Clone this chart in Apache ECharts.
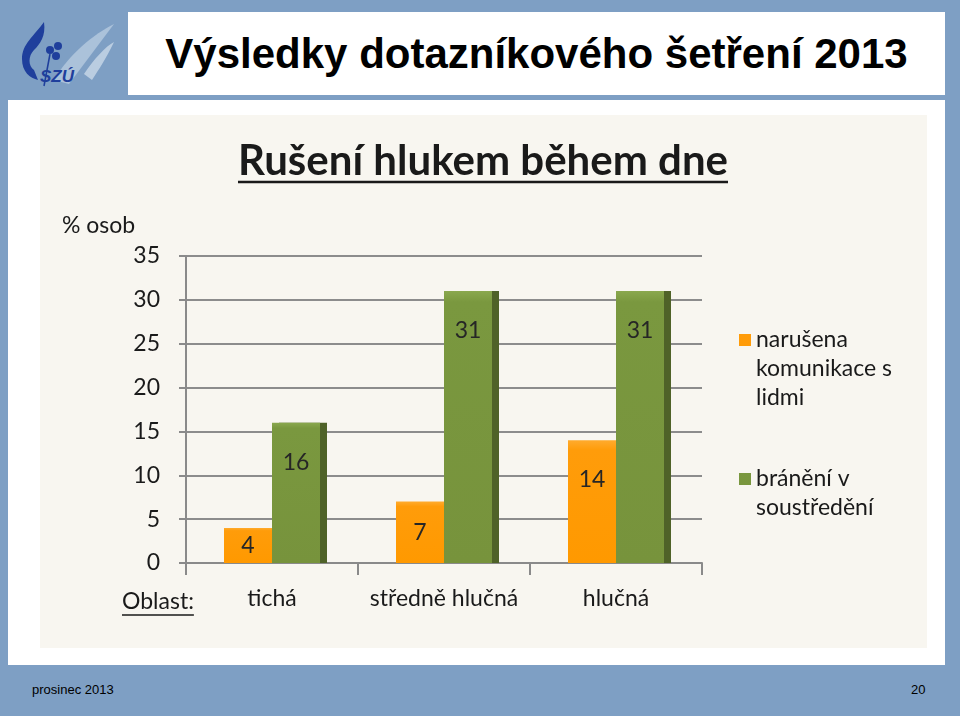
<!DOCTYPE html>
<html>
<head>
<meta charset="utf-8">
<script src="https://cdn.jsdelivr.net/npm/echarts@6/dist/echarts.min.js"></script>
<style>
  html, body { margin: 0; padding: 0; }
  body { width: 960px; height: 716px; background: #7e9fc4; position: relative; overflow: hidden; font-family: "Liberation Sans", Arial, sans-serif; }
  .box { position: absolute; background: #ffffff; }
  #header { left: 128px; top: 12px; width: 817px; height: 83px; display: flex; align-items: center; justify-content: center; }
  #header span { font: bold 42px "Liberation Sans", Arial, sans-serif; color: #000; }
  #content { left: 8px; top: 100px; width: 937px; height: 565px; }
  #beige { position: absolute; left: 40px; top: 115px; width: 887px; height: 533px; background: #f8f6f0; }
  #logo { position: absolute; left: 14px; top: 14px; width: 104px; height: 80px; }
  .foot { position: absolute; top: 682px; font: 13px "Liberation Sans", Arial, sans-serif; color: #000; }
  #chart { position: absolute; left: 0; top: 0; width: 960px; height: 716px; }
</style>
</head>
<body>
<div id="header" class="box"><span>Výsledky dotazníkového šetření 2013</span></div>
<div id="content" class="box"></div>
<div id="beige"></div>
<svg id="logo" viewBox="0 0 104 80">
  <path d="M40 66 C55 40 80 20 100 10 C85 30 70 50 55 70 Z" fill="#b7cbe0" opacity="0.8"/>
  <path d="M70 60 C80 45 92 32 100 28 C92 45 85 55 78 66 Z" fill="#c9d8e8" opacity="0.8"/>
  <path d="M30 8 C20 22 8 30 8 45 C8 58 16 64 24 66 L20 56 C14 52 14 42 20 36 C26 30 32 22 30 8 Z" fill="#1f3f9c"/>
  <circle cx="36" cy="36" r="4" fill="#1f3f9c"/>
  <circle cx="44" cy="32" r="4" fill="#1f3f9c"/>
  <circle cx="42" cy="42" r="4" fill="#1f3f9c"/>
  <line x1="36" y1="40" x2="30" y2="72" stroke="#1f3f9c" stroke-width="1.5"/>
  <text x="26" y="68" font-family="Liberation Sans, Arial" font-weight="bold" font-style="italic" font-size="17" fill="#1f3f9c">SZÚ</text>
</svg>
<div class="foot" style="left:32px;">prosinec 2013</div>
<div class="foot" style="left:911px;">20</div>
<div id="chart"></div>
<script>
// ---- data ----
const categories = ['tichá', 'středně hlučná', 'hlučná'];
const seriesNames = ['narušena\nkomunikace s\nlidmi', 'bránění v\nsoustředění'];
const communication = [4, 7, 14];
const concentration = [16, 31, 31];
const chartTitle = 'Rušení hlukem během dne';
const yAxisTitle = '% osob';
const xAxisTitle = 'Oblast:';
const yMin = 0, yMax = 35, yInterval = 5;

// ---- styling ----
const FONT = 'Lato, "Open Sans", sans-serif';
const TXT = '#1a1a1a';
const FS = 23;
const LINE_H = 29;

function measure(text, font) {
  const c = document.createElement('canvas').getContext('2d');
  c.font = font;
  return c.measureText(text).width;
}

const titleSize = 42;
const titleW = measure(chartTitle, 'bold ' + titleSize + 'px Lato');
const titleCx = 483;
const oblastSize = 23;
const oblastW = measure(xAxisTitle, oblastSize + 'px Lato');

function labelFor(v) {
  return v < 10
    ? { position: 'inside' }
    : { position: 'insideTop', distance: 28 };
}

// legend icon: square aligned with the first text line of a multi-line label
function legendFor(name, left, firstLineY) {
  const lines = name.split('\n').length;
  const h = lines * LINE_H;
  const sq = LINE_H / 2 - 6;
  const icon = 'path://M0,0h0.01v0.01h-0.01z' +
    'M0,' + sq + 'h12v12h-12z' +
    'M11.99,' + (h - 0.01) + 'h0.01v0.01h-0.01z';
  return {
    data: [name],
    left: left, top: firstLineY - LINE_H / 2 - 5,
    orient: 'vertical',
    itemWidth: 12, itemHeight: h, icon: icon,
    textStyle: { fontFamily: FONT, fontSize: FS, lineHeight: LINE_H, color: TXT }
  };
}

const chart = echarts.init(document.getElementById('chart'), null, { renderer: 'canvas' });

chart.setOption({
  backgroundColor: 'transparent',
  animation: false,
  title: {
    text: chartTitle,
    left: titleCx - titleW / 2,
    top: 140,
    padding: 0,
    textStyle: { fontFamily: FONT, fontSize: titleSize, fontWeight: 'bold', color: TXT }
  },
  legend: [
    legendFor(seriesNames[0], 734, 340),
    legendFor(seriesNames[1], 734, 479)
  ],
  grid: { left: 186, right: 258, top: 256, bottom: 153, containLabel: false },
  xAxis: {
    type: 'category',
    data: categories,
    axisLine: { lineStyle: { color: '#8a8a8a', width: 2 } },
    axisTick: { show: true, length: 12, lineStyle: { color: '#8a8a8a', width: 2 } },
    axisLabel: { interval: 0, margin: 24, fontFamily: FONT, fontSize: FS, color: TXT }
  },
  yAxis: {
    type: 'value',
    min: yMin, max: yMax, interval: yInterval,
    axisLine: { show: true, lineStyle: { color: '#8a8a8a', width: 2 } },
    axisTick: { show: true, length: 7, lineStyle: { color: '#8a8a8a', width: 2 } },
    axisLabel: { margin: 26, fontFamily: FONT, fontSize: FS, color: TXT },
    splitLine: { lineStyle: { color: '#8c8c8c', width: 2 } }
  },
  series: [
    {
      name: seriesNames[0],
      type: 'bar',
      barWidth: 48,
      barGap: '0%',
      data: communication.map(v => ({ value: v, label: labelFor(v) })),
      itemStyle: {
        color: new echarts.graphic.LinearGradient(0, 0, 0, 1, [
          { offset: 0, color: '#ffab2e' }, { offset: 0.08, color: '#ff9c0a' }, { offset: 1, color: '#ff9900' }
        ])
      },
      label: { show: true, fontFamily: FONT, fontSize: FS, color: '#262626' },
      z: 3
    },
    {
      name: seriesNames[1],
      type: 'bar',
      barWidth: 48,
      barGap: '0%',
      data: concentration.map(v => ({ value: v, label: labelFor(v) })),
      itemStyle: {
        color: new echarts.graphic.LinearGradient(0, 0, 0, 1, [
          { offset: 0, color: '#8aa84e' }, { offset: 0.04, color: '#7a983f' }, { offset: 1, color: '#77933c' }
        ]),
        shadowColor: '#4f6228', shadowOffsetX: 7, shadowOffsetY: 0, shadowBlur: 0
      },
      label: { show: true, fontFamily: FONT, fontSize: FS, color: '#262626' },
      z: 4
    }
  ],
  graphic: [
    {
      type: 'line',
      shape: { x1: titleCx - titleW / 2, y1: 182, x2: titleCx + titleW / 2, y2: 182 },
      style: { stroke: TXT, lineWidth: 2.5 }
    },
    {
      type: 'text', left: 62, top: 214,
      style: { text: yAxisTitle, font: FS + 'px ' + FONT, fill: TXT }
    },
    {
      type: 'text', left: 122, top: 590,
      style: { text: xAxisTitle, font: oblastSize + 'px ' + FONT, fill: TXT }
    },
    {
      type: 'line',
      shape: { x1: 122, y1: 615, x2: 122 + oblastW, y2: 615 },
      style: { stroke: TXT, lineWidth: 1.5 }
    }
  ]
});
</script>
</body>
</html>
